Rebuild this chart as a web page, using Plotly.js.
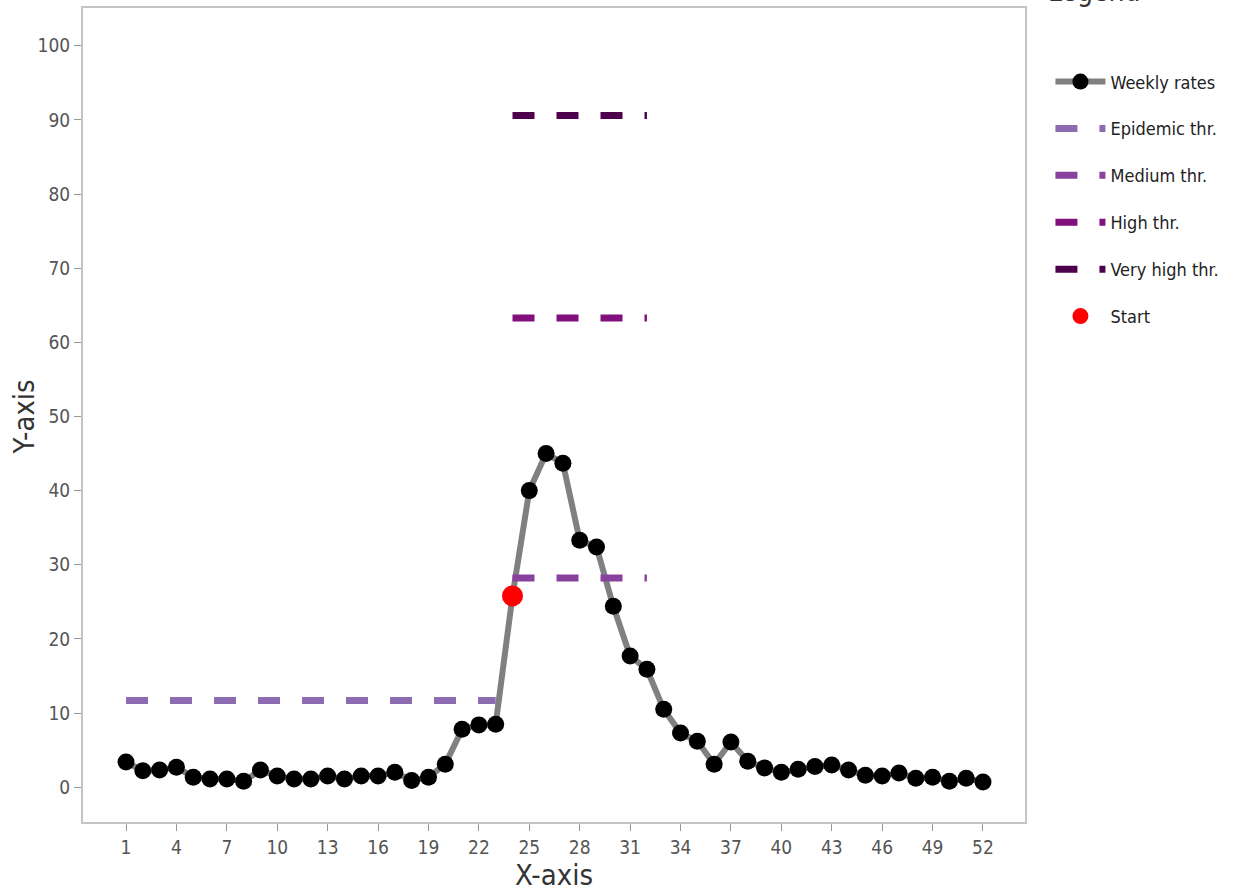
<!DOCTYPE html>
<html>
<head>
<meta charset="utf-8">
<script src="https://cdn.plot.ly/plotly-3.0.1.min.js"></script>
<style>html,body{margin:0;padding:0;background:#fff;}#chart{width:1255px;height:893px;}</style>
</head>
<body>
<div id="chart"></div>
<script>
// Weeks and weekly rates
const weeks = Array.from({length: 52}, (_, i) => i + 1);
const weeklyRates = [3.4, 2.2, 2.3, 2.7, 1.35, 1.1, 1.1, 0.8, 2.3, 1.5,
  1.1, 1.1, 1.5, 1.1, 1.5, 1.5, 2.0, 0.9, 1.35, 3.1,
  7.8, 8.4, 8.5, 25.8, 40.0, 45.0, 43.7, 33.3, 32.4, 24.4,
  17.7, 15.9, 10.5, 7.3, 6.2, 3.1, 6.1, 3.5, 2.6, 2.0,
  2.4, 2.8, 3.0, 2.3, 1.6, 1.5, 1.9, 1.2, 1.35, 0.8,
  1.2, 0.7];

// Thresholds: [startWeek, endWeek] and values
const epidemicWeeks = [1, 23];
const epidemicValue = [11.7, 11.7];
const intensityWeeks = [24, 32];
const mediumValue = [28.2, 28.2];
const highValue = [63.3, 63.3];
const veryHighValue = [90.6, 90.6];

// Start of epidemic
const startWeek = [24];
const startValue = [25.8];

const xTicks = [1, 4, 7, 10, 13, 16, 19, 22, 25, 28, 31, 34, 37, 40, 43, 46, 49, 52];
const yTicks = [0, 10, 20, 30, 40, 50, 60, 70, 80, 90, 100];

const FONT = 'DejaVu Sans Condensed, DejaVu Sans, sans-serif';
const dash = '22px,22px';
const traces = [
  {x: weeks, y: weeklyRates, name: 'Weekly rates', mode: 'lines+markers', legendgroup: 'a',
   line: {color: '#808080', width: 6}, marker: {color: '#000000', size: 17}},
  {x: epidemicWeeks, y: epidemicValue, name: 'Epidemic thr.', mode: 'lines', legendgroup: 'b',
   line: {color: '#8c6bb1', width: 7, dash: dash}},
  {x: intensityWeeks, y: mediumValue, name: 'Medium thr.', mode: 'lines', legendgroup: 'c',
   line: {color: '#88419d', width: 7, dash: dash}},
  {x: intensityWeeks, y: highValue, name: 'High thr.', mode: 'lines', legendgroup: 'd',
   line: {color: '#810f7c', width: 7, dash: dash}},
  {x: intensityWeeks, y: veryHighValue, name: 'Very high thr.', mode: 'lines', legendgroup: 'e',
   line: {color: '#4d004b', width: 7, dash: dash}},
  {x: startWeek, y: startValue, name: 'Start', mode: 'markers', legendgroup: 'f',
   marker: {color: '#ff0000', size: 21}}
];

const layout = {
  width: 1255, height: 893,
  margin: {l: 83, r: 230, t: 8, b: 71},
  paper_bgcolor: '#ffffff', plot_bgcolor: '#ffffff',
  font: {family: FONT, color: '#333333'},
  showlegend: true,
  legend: {x: 1.027, xanchor: 'left', y: 0.932, yanchor: 'top',
    traceorder: 'grouped', tracegroupgap: 20.5, itemwidth: 50,
    font: {size: 18, color: '#222222', family: FONT}},
  xaxis: {
    range: [-1.56, 54.5], tickvals: xTicks, ticktext: xTicks.map(String),
    showgrid: false, zeroline: false, showline: true, mirror: true,
    linecolor: '#c4c4c4', linewidth: 2, ticks: 'outside', ticklen: 7, tickcolor: '#999999',
    tickfont: {size: 19, color: '#555555', family: FONT},
    title: {text: 'X-axis', font: {size: 29, color: '#333333', family: FONT}, standoff: 6}
  },
  yaxis: {
    range: [-4.7, 105.1], tickvals: yTicks,
    showgrid: false, zeroline: false, showline: true, mirror: true,
    linecolor: '#c4c4c4', linewidth: 2, ticks: 'outside', ticklen: 7, tickcolor: '#999999',
    tickfont: {size: 19, color: '#555555', family: FONT}
  },
  annotations: [{
    text: 'Legend', xref: 'paper', yref: 'paper', x: 1.022, xanchor: 'left',
    y: 1.0, yanchor: 'bottom', yshift: -2, showarrow: false,
    font: {size: 28, color: '#333333', family: FONT}
  }, {
    text: 'Y-axis', xref: 'paper', yref: 'paper', x: -0.0626, xanchor: 'center',
    y: 0.497, yanchor: 'middle', textangle: -90, showarrow: false,
    font: {size: 29, color: '#333333', family: FONT}
  }]
};

Plotly.newPlot('chart', traces, layout, {displayModeBar: false});
</script>
</body>
</html>
